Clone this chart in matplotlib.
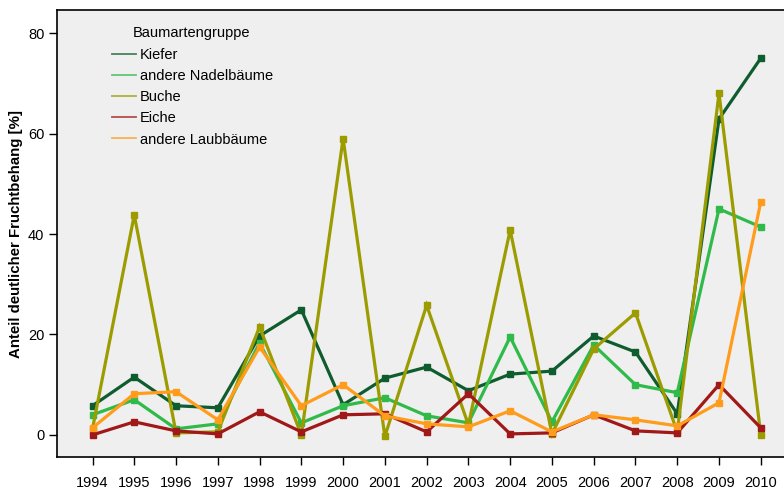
import matplotlib.pyplot as plt

plt.rcParams['font.family'] = ['Liberation Sans', 'DejaVu Sans']

jahre = list(range(1994, 2011))

kiefer = [5.8, 11.5, 5.8, 5.4, 19.7, 24.9, 6.0, 11.3, 13.5, 8.8, 12.1, 12.7, 19.7, 16.5, 4.2, 62.9, 75.0]
nadel = [4.0, 7.0, 1.2, 2.2, 18.3, 2.4, 5.8, 7.4, 3.8, 2.4, 19.5, 2.6, 17.9, 10.0, 8.4, 45.0, 41.4]
buche = [1.2, 43.8, 0.4, 0.6, 21.5, 0.0, 59.0, -0.3, 25.8, 2.0, 40.8, 0.2, 17.1, 24.3, 0.6, 68.0, 0.0]
eiche = [0.0, 2.6, 0.8, 0.2, 4.6, 0.6, 4.0, 4.2, 0.6, 8.2, 0.2, 0.4, 4.0, 0.8, 0.4, 10.0, 1.4]
laub = [1.4, 8.2, 8.6, 3.0, 17.5, 5.8, 10.0, 3.8, 2.2, 1.6, 4.8, 0.6, 4.0, 3.0, 1.8, 6.4, 46.4]

serien = [
    ('Kiefer', kiefer, '#0f5c2e'),
    ('andere Nadelbäume', nadel, '#2fba4a'),
    ('Buche', buche, '#9c9c00'),
    ('Eiche', eiche, '#a01818'),
    ('andere Laubbäume', laub, '#ff9c1c'),
]

fig = plt.figure(figsize=(7.84, 4.9), dpi=100)
ax = fig.add_axes([57 / 784, 1 - 457 / 490, 1.005 - 57 / 784, 447 / 490])
ax.set_facecolor('#efefef')

for name, werte, farbe in serien:
    ax.plot(jahre, werte, color=farbe, lw=2.3, marker='s', ms=4.3, mec=farbe,
            label=name, solid_joinstyle='miter')

ax.set_xlim(1993.15, 2010.65)
ax.set_ylim(-4.4, 84.6)
ax.set_xticks(jahre)
ax.set_yticks([0, 20, 40, 60, 80])
ax.tick_params(labelsize=10.5, length=6, width=1, color='black', pad=3)
ax.tick_params(axis='x', pad=8)
for s in ax.spines.values():
    s.set_linewidth(1.2)
ax.set_ylabel('Anteil deutlicher Fruchtbehang [%]', fontsize=10.8, fontweight='bold', labelpad=4)

# Legende ohne Rahmen, dünne Linien, Titel separat eingerückt
fig.text(133 / 784, 1 - 33 / 490, 'Baumartengruppe', fontsize=10.5, va='center', ha='left')
handles = [plt.Line2D([], [], color=f, lw=1.3, alpha=0.75) for _, _, f in serien]
ax.legend(handles, [n for n, _, _ in serien], loc='upper left',
          bbox_to_anchor=(112 / 784, 1 - 48 / 490), bbox_transform=fig.transFigure,
          frameon=False, fontsize=10.5, borderpad=0, borderaxespad=0,
          handlelength=1.65, handletextpad=0.27, labelspacing=0.49)

fig.savefig('out.png', dpi=100)
